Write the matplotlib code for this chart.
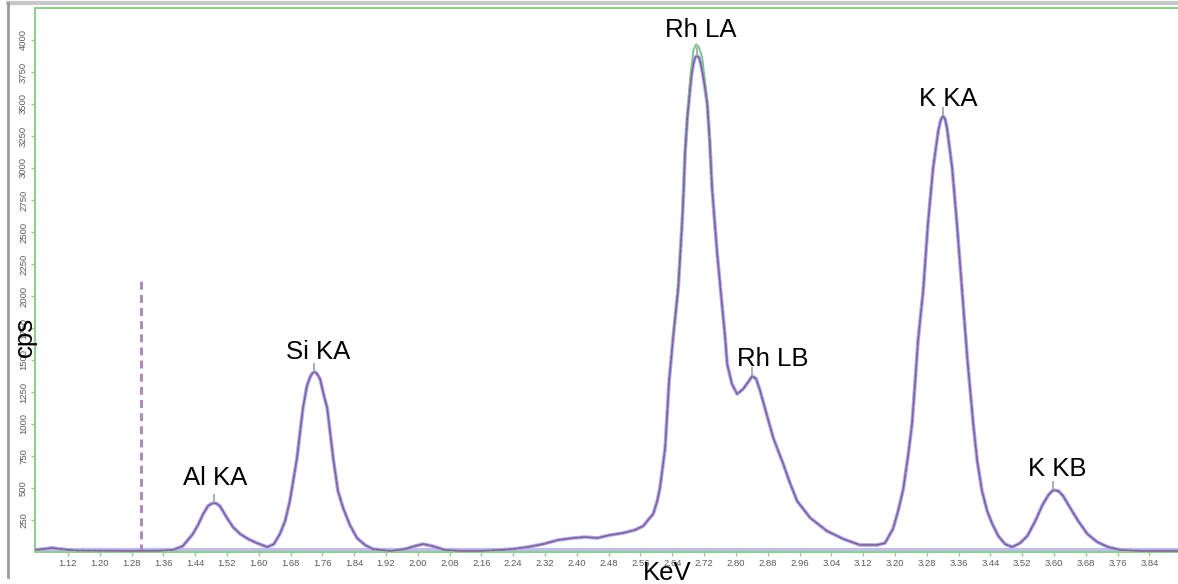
import numpy as np
import matplotlib
matplotlib.use('Agg')
import matplotlib.pyplot as plt
from matplotlib.lines import Line2D

plt.rcParams['font.family'] = ['Liberation Sans', 'DejaVu Sans']

# spectrum (keV, cps)
energy = [1.037, 1.055, 1.080, 1.105, 1.138, 1.200, 1.276, 1.351, 1.384,
          1.409, 1.434, 1.447, 1.460, 1.472, 1.480, 1.487, 1.494, 1.502,
          1.520, 1.535, 1.553, 1.573, 1.595, 1.621,
          1.638, 1.653, 1.666, 1.678, 1.696, 1.711, 1.721, 1.729, 1.734,
          1.739, 1.743, 1.748, 1.754, 1.764, 1.772, 1.787, 1.799, 1.812,
          1.829, 1.847, 1.867, 1.887, 1.930,
          1.968, 1.993, 2.013, 2.036, 2.068, 2.106, 2.156, 2.207, 2.239,
          2.277, 2.315, 2.353, 2.390, 2.421, 2.451, 2.484, 2.516, 2.546,
          2.567, 2.579, 2.592, 2.602, 2.609, 2.622, 2.632,
          2.642, 2.655, 2.665, 2.669, 2.672, 2.678, 2.685, 2.689, 2.693,
          2.697, 2.702, 2.707, 2.712, 2.717, 2.722, 2.728, 2.734, 2.740,
          2.747, 2.753, 2.765, 2.773,
          2.778, 2.790, 2.803, 2.818, 2.831, 2.841, 2.851, 2.861, 2.873,
          2.894, 2.919, 2.936, 2.954, 2.987, 3.029, 3.070, 3.112, 3.155,
          3.175,
          3.195, 3.208, 3.221, 3.233, 3.243, 3.251, 3.258, 3.271, 3.283,
          3.296, 3.309, 3.315, 3.321, 3.326, 3.331, 3.344, 3.356, 3.369,
          3.382, 3.397, 3.407, 3.419, 3.432, 3.445, 3.460, 3.477, 3.495,
          3.515, 3.533, 3.553, 3.571, 3.586, 3.598, 3.611, 3.623, 3.641,
          3.661, 3.684, 3.709, 3.736, 3.767, 3.817, 3.912]
counts = [16, 22, 32, 22, 12, 10, 8, 10, 16,
          47, 141, 211, 297, 359, 376, 383, 378, 359,
          266, 195, 141, 102, 70, 39,
          62, 141, 242, 398, 734, 1125, 1297, 1367, 1394,
          1406, 1403, 1384, 1352, 1219, 1125, 734, 477, 344,
          211, 109, 55, 23, 8,
          23, 47, 62, 47, 16, 8, 8, 16, 23,
          39, 62, 94, 109, 117, 109, 133, 148, 172,
          203, 250, 297, 398, 500, 813, 1336,
          1672, 2063, 2586, 2860, 3109, 3400, 3625, 3740, 3813,
          3860, 3878, 3865, 3810, 3730, 3630, 3500, 3220, 2844,
          2570, 2328, 1938, 1672,
          1469, 1313, 1234, 1273, 1328, 1375, 1352, 1258, 1125,
          891, 688, 539, 398, 266, 164, 102, 55, 55,
          70,
          180, 320, 492, 750, 1000, 1336, 1648, 2039, 2563,
          3000, 3289, 3375, 3406, 3385, 3313, 3000, 2563, 2039,
          1516, 1000, 711, 477, 320, 219, 125, 62, 39,
          70, 125, 242, 367, 445, 484, 477, 438, 344,
          242, 141, 78, 39, 16, 8, 8]

# second measurement around Rh LA
rh_energy = [2.642, 2.655, 2.665, 2.672, 2.685, 2.693, 2.700, 2.706, 2.715, 2.728, 2.740]
rh_counts = [1690, 2090, 2620, 3150, 3700, 3920, 3965, 3950, 3870, 3520, 2850]

peak_names = ['Al KA', 'Si KA', 'Rh LA', 'Rh LB', 'K KA', 'K KB']
peak_energy = [1.487, 1.739, 2.702, 2.841, 3.321, 3.598]
label_offsets = [(1, 18), (4, 13), (4, 19), (21, 10), (5, 10), (4, 14)]  # pixels

cursor_energy = 1.304
cursor_top = 2120

x_ticks = [1.12, 1.20, 1.28, 1.36, 1.44, 1.52, 1.60, 1.68, 1.76, 1.84, 1.92,
           2.00, 2.08, 2.16, 2.24, 2.32, 2.40, 2.48, 2.56, 2.64, 2.72, 2.80,
           2.88, 2.96, 3.04, 3.12, 3.20, 3.28, 3.36, 3.44, 3.52, 3.60, 3.68,
           3.76, 3.84]
y_ticks = [250, 500, 750, 1000, 1250, 1500, 1750, 2000, 2250, 2500, 2750,
           3000, 3250, 3500, 3750, 4000]

green = '#8fd08f'

fig = plt.figure(figsize=(11.78, 5.84), dpi=100)
ax = fig.add_axes([35 / 1178, 32 / 584, 1143 / 1178, 544 / 584])

ax.axhline(15, color='#bdbdf0', lw=3, zorder=1)
ax.plot(energy, counts, color='#a8a8ee', lw=2.6, zorder=2, solid_joinstyle='round')
ax.plot(rh_energy, rh_counts, color='#7cc48c', lw=1.4, zorder=2)
ax.plot(energy, counts, color='#6a5aa8', lw=1.0, zorder=3, solid_joinstyle='round')
ax.plot(energy, counts, color='#c8607a', lw=0.8, ls=(0, (2, 3)), zorder=4)

ax.plot([cursor_energy, cursor_energy], [0, cursor_top], color='#b08ab8',
        lw=2.2, ls=(0, (2.6, 1.7)), zorder=2)

# peak markers and names
peak_counts = np.interp(peak_energy, energy, counts)
ax.vlines(peak_energy, peak_counts, peak_counts + 70, color='#a8a8a8', lw=1.3, zorder=5)
for name, e, c, off in zip(peak_names, peak_energy, peak_counts, label_offsets):
    ax.annotate(name, (e, c), xytext=off, textcoords='offset pixels',
                ha='center', va='baseline', fontsize=18.5, color='black')

ax.set_xlim(1.037, 3.912)
ax.set_ylim(0, 4250)
ax.set_xticks(x_ticks)
ax.set_xticklabels(['%.2f' % t for t in x_ticks])
ax.set_yticks(y_ticks)
ax.set_yticklabels([str(t) for t in y_ticks], rotation=90, va='center')
ax.tick_params(colors=green, labelcolor='#5a5a5a', labelsize=6.8,
               length=3, width=1, direction='out', pad=2)

for side in ['left', 'bottom', 'top']:
    ax.spines[side].set_color(green)
    ax.spines[side].set_linewidth(1.5)
ax.spines['right'].set_visible(False)

fig.text(25 / 1178, 1 - 337 / 584, 'cps', rotation=90, ha='center', va='center',
         fontsize=18.5)
fig.text(667 / 1178, 4 / 584, 'KeV', ha='center', va='baseline', fontsize=18.5)

# window frame
fig.add_artist(Line2D([8 / 1178, 1], [1 - 3 / 584, 1 - 3 / 584], color='#c8c8c8', lw=3))
fig.add_artist(Line2D([8 / 1178, 8 / 1178], [1 - 3 / 584, 1 - 577 / 584], color='#9a9a9a', lw=2))

fig.savefig('out.png', dpi=100)
